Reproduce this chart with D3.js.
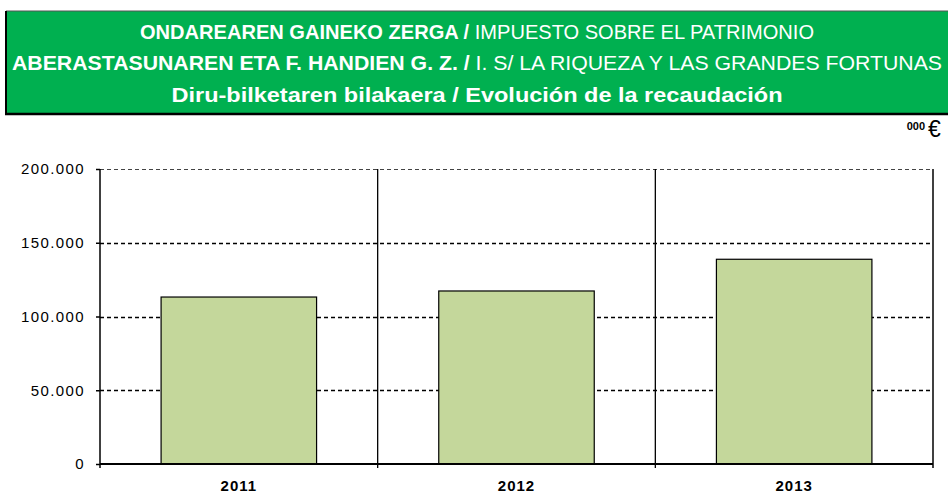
<!DOCTYPE html>
<html>
<head>
<meta charset="utf-8">
<script src="https://cdn.jsdelivr.net/npm/d3@7"></script>
<style>
  body { margin: 0; background: #fff; }
  svg { display: block; font-family: "Liberation Sans", Arial, sans-serif; }
</style>
</head>
<body>
<svg id="chart" width="950" height="493"></svg>
<script>
// Chart data
const years = ['2011', '2012', '2013'];
const revenue = [113200, 117300, 138800];
const yTicks = [0, 50000, 100000, 150000, 200000];

// Title lines: [bold basque part, normal spanish part]
const titleLines = [
  ['ONDAREAREN GAINEKO ZERGA / ', 'IMPUESTO SOBRE EL PATRIMONIO'],
  ['ABERASTASUNAREN ETA F. HANDIEN G. Z. / ', 'I. S/ LA RIQUEZA Y LAS GRANDES FORTUNAS'],
  ['Diru-bilketaren bilakaera / Evolución de la recaudación', '']
];

const width = 950;
const height = 493;
const margin = { top: 169, right: 17, bottom: 29, left: 100 };
const plotW = width - margin.left - margin.right;
const plotH = height - margin.top - margin.bottom;

const svg = d3.select('#chart');

//Banner
const banner = svg.append('g');
banner
  .append('rect')
  .attr('x', 6)
  .attr('y', 11)
  .attr('width', 942)
  .attr('height', 103)
  .attr('fill', '#00b050');
banner
  .append('line')
  .attr('x1', 6).attr('x2', 948)
  .attr('y1', 11).attr('y2', 11)
  .attr('stroke', '#555')
  .attr('stroke-width', 1);
banner
  .append('line')
  .attr('x1', 6).attr('x2', 6)
  .attr('y1', 11).attr('y2', 115)
  .attr('stroke', '#000')
  .attr('stroke-width', 2);
banner
  .append('line')
  .attr('x1', 5).attr('x2', 948)
  .attr('y1', 114).attr('y2', 114)
  .attr('stroke', '#000')
  .attr('stroke-width', 2.5);

const lineBaselines = [38.5, 70, 102];
const lineLengths = [674, 930, 611];
titleLines.forEach((parts, i) => {
  const t = banner
    .append('text')
    .attr('x', 477)
    .attr('y', lineBaselines[i])
    .attr('text-anchor', 'middle')
    .attr('fill', '#fff')
    .attr('font-size', 19.5)
    .attr('textLength', lineLengths[i])
    .attr('lengthAdjust', 'spacingAndGlyphs');
  t.append('tspan').attr('font-weight', 'bold').text(parts[0]);
  if (parts[1]) t.append('tspan').text(parts[1]);
});

//Units label
svg.append('text')
  .attr('x', 925)
  .attr('y', 130)
  .attr('text-anchor', 'end')
  .attr('font-size', 11)
  .attr('font-weight', 'bold')
  .attr('fill', '#000')
  .text('000');
svg.append('text')
  .attr('x', 928)
  .attr('y', 137)
  .attr('font-size', 23)
  .attr('fill', '#000')
  .text('€');

//Scales
const x = d3.scaleBand().domain(years).range([0, plotW]).padding(0);
const y = d3.scaleLinear().domain([0, 200000]).range([plotH, 0]);

const locale = d3.formatLocale({ decimal: ',', thousands: '.', grouping: [3], currency: ['', '€'] });
const fmt = locale.format(',d');

const g = svg.append('g').attr('transform', `translate(${margin.left},${margin.top})`);

//Dashed gridlines
g.selectAll('.grid')
  .data(yTicks.filter(d => d > 0))
  .enter()
  .append('line')
  .attr('class', 'grid')
  .attr('x1', 0)
  .attr('x2', plotW)
  .attr('y1', d => Math.round(y(d)) + 0.5)
  .attr('y2', d => Math.round(y(d)) + 0.5)
  .attr('stroke', d => (d === 200000 ? '#444' : '#000'))
  .attr('stroke-width', d => (d === 200000 ? 1 : 1.5))
  .attr('stroke-dasharray', '4,3');

//Category dividers
const boundaries = years.slice(1).map(d => x(d));
g.selectAll('.divider')
  .data(boundaries)
  .enter()
  .append('line')
  .attr('class', 'divider')
  .attr('x1', d => d).attr('x2', d => d)
  .attr('y1', 0).attr('y2', plotH + 4)
  .attr('stroke', '#000')
  .attr('stroke-width', 1.3);

//Right frame
g.append('line')
  .attr('x1', plotW).attr('x2', plotW)
  .attr('y1', 0).attr('y2', plotH + 4)
  .attr('stroke', '#000')
  .attr('stroke-width', 1.5);

//Bars
const barRatio = 0.56;
g.selectAll('.bar')
  .data(years)
  .enter()
  .append('rect')
  .attr('class', 'bar')
  .attr('x', d => x(d) + (x.bandwidth() * (1 - barRatio)) / 2)
  .attr('width', x.bandwidth() * barRatio)
  .attr('y', (d, i) => y(revenue[i]))
  .attr('height', (d, i) => plotH - y(revenue[i]))
  .attr('fill', '#c4d79b')
  .attr('stroke', '#000')
  .attr('stroke-width', 1.2);

//Y axis
const yAxis = g.append('g')
  .call(
    d3.axisLeft(y)
      .tickValues(yTicks)
      .tickSize(4)
      .tickPadding(11)
      .tickFormat(d => fmt(d))
  );
yAxis.select('.domain').remove();
yAxis.selectAll('.tick line').attr('stroke', '#000').attr('stroke-width', 1.5);
yAxis.selectAll('text')
  .attr('font-size', 15)
  .attr('letter-spacing', 1.4)
  .attr('font-family', '"Liberation Sans", Arial, sans-serif')
  .attr('fill', '#000');

g.append('line')
  .attr('x1', 0).attr('x2', 0)
  .attr('y1', 0).attr('y2', plotH + 4)
  .attr('stroke', '#000')
  .attr('stroke-width', 1.5);

//X axis line
g.append('line')
  .attr('x1', 0).attr('x2', plotW)
  .attr('y1', plotH).attr('y2', plotH)
  .attr('stroke', '#000')
  .attr('stroke-width', 2);

//X labels
g.selectAll('.xlabel')
  .data(years)
  .enter()
  .append('text')
  .attr('class', 'xlabel')
  .attr('x', d => x(d) + x.bandwidth() / 2)
  .attr('y', plotH + 27)
  .attr('text-anchor', 'middle')
  .attr('font-size', 15)
  .attr('font-weight', 'bold')
  .attr('letter-spacing', 1)
  .attr('fill', '#000')
  .text(d => d);
</script>
</body>
</html>
